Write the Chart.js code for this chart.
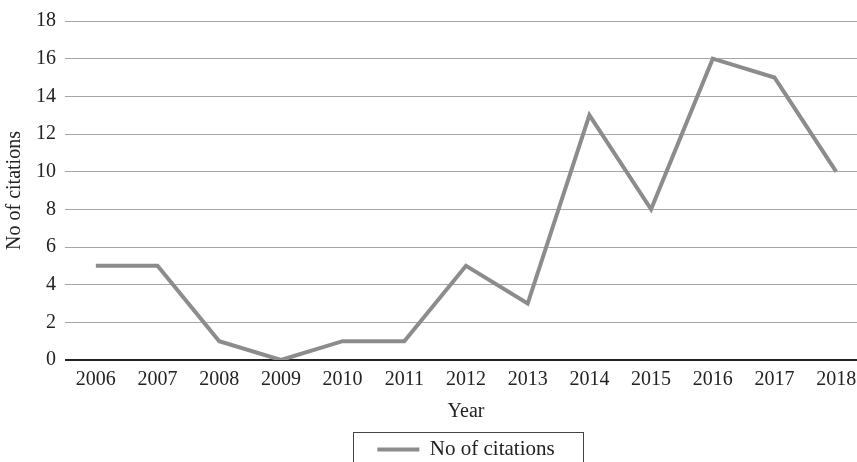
<!DOCTYPE html>
<html>
<head>
<meta charset="utf-8">
<style>
  html, body { margin: 0; padding: 0; background: #fff; overflow: hidden; }
  #wrap { width: 868px; height: 470px; }
</style>
<script src="https://cdn.jsdelivr.net/npm/chart.js@4/dist/chart.umd.min.js"></script>
</head>
<body>
<div id="wrap"><canvas id="c" width="868" height="470"></canvas></div>
<script>
const years = ['2006','2007','2008','2009','2010','2011','2012','2013','2014','2015','2016','2017','2018'];
const citations = [5, 5, 1, 0, 1, 1, 5, 3, 13, 8, 16, 15, 10];
const yTicks = [0, 2, 4, 6, 8, 10, 12, 14, 16, 18];

const FONT = '"Liberation Serif", "Times New Roman", serif';
const LINE_GREY = '#8c8c8c';

// Frame drawn around the legend entry
const legendFrame = {
  id: 'legendFrame',
  afterDraw(chart) {
    const lg = chart.legend;
    if (!lg || !lg.legendHitBoxes || !lg.legendHitBoxes.length) return;
    const hb = lg.legendHitBoxes[0];
    const ctx = chart.ctx;
    ctx.save();
    ctx.strokeStyle = '#444';
    ctx.lineWidth = 1;
    const x0 = Math.round(hb.left - 24) + 0.5;
    const x1 = Math.round(hb.left + hb.width + 28) + 0.5;
    const y0 = Math.round(hb.top - 7) + 0.5;
    const y1 = y0 + 60;
    ctx.strokeRect(x0, y0, x1 - x0, y1 - y0);
    ctx.restore();
  }
};

new Chart(document.getElementById('c'), {
  type: 'line',
  data: {
    labels: years,
    datasets: [{
      label: 'No of citations',
      data: citations,
      borderColor: LINE_GREY,
      backgroundColor: LINE_GREY,
      borderWidth: 4,
      pointRadius: 0,
      tension: 0,
      fill: false
    }]
  },
  options: {
    responsive: false,
    animation: false,
    layout: { padding: { top: 11, right: 1, left: 0, bottom: 0 } },
    plugins: {
      legend: {
        position: 'bottom',
        fullSize: false,
        labels: {
          usePointStyle: true,
          pointStyle: 'line',
          pointStyleWidth: 42,
          color: '#222',
          font: { family: FONT, size: 21 },
          padding: 8
        }
      },
      tooltip: { enabled: false }
    },
    scales: {
      x: {
        type: 'category',
        offset: true,
        grid: { display: false, drawTicks: false },
        border: { display: false },
        ticks: {
          color: '#222',
          font: { family: FONT, size: 20 },
          padding: 8,
          maxRotation: 0,
          autoSkip: false
        },
        title: {
          display: true,
          text: 'Year',
          color: '#222',
          font: { family: FONT, size: 20 },
          padding: { top: 0, bottom: 7 }
        }
      },
      y: {
        min: 0,
        max: 18,
        afterBuildTicks(scale) {
          scale.ticks = yTicks.map(v => ({ value: v }));
        },
        afterFit(scale) { scale.width = 65; },
        grid: {
          drawTicks: false,
          color: ctx => ctx.tick && ctx.tick.value === 0 ? '#222' : '#a6a6a6',
          lineWidth: ctx => ctx.tick && ctx.tick.value === 0 ? 2 : 1
        },
        border: { display: false },
        ticks: {
          color: '#222',
          font: { family: FONT, size: 20 },
          padding: 9
        },
        title: {
          display: true,
          text: 'No of citations',
          color: '#222',
          font: { family: FONT, size: 20 },
          padding: { top: 3, bottom: 0 }
        }
      }
    }
  },
  plugins: [legendFrame]
});
</script>
</body>
</html>
